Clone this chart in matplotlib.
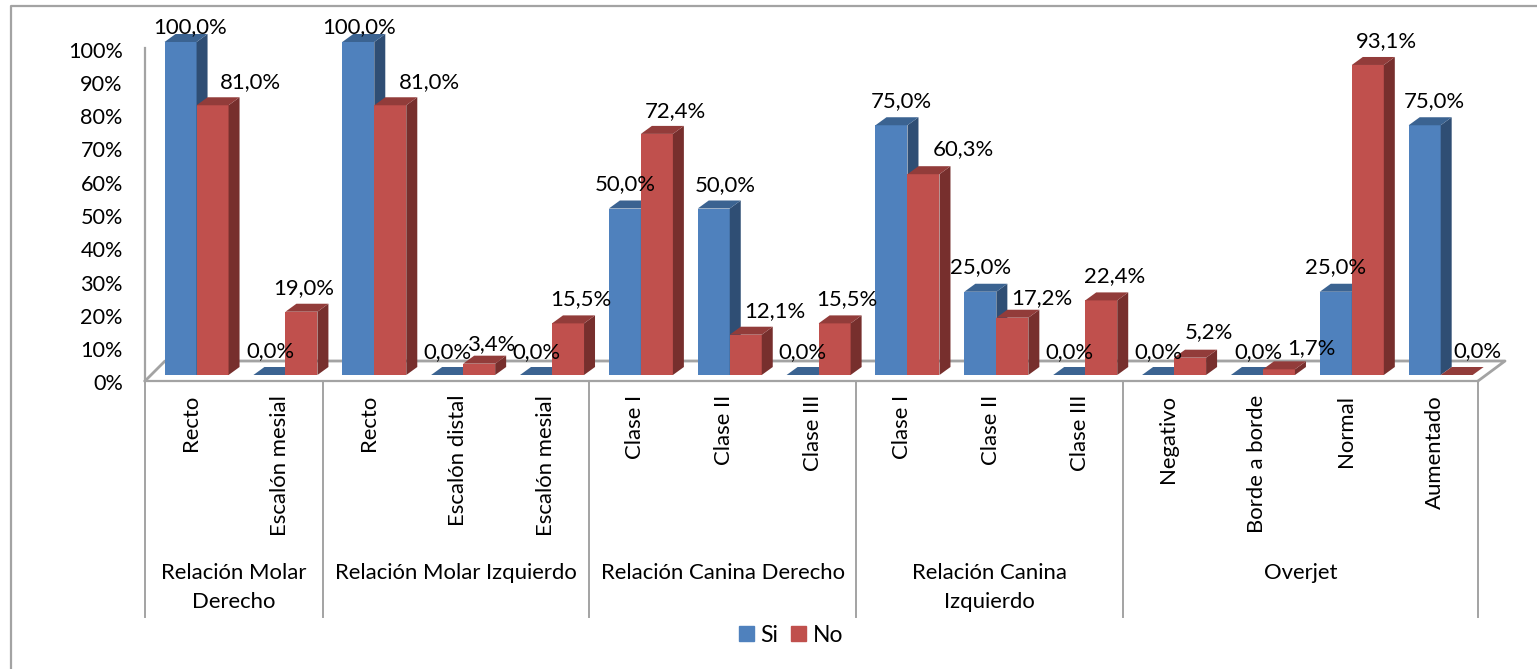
import matplotlib
matplotlib.use("Agg")
import matplotlib.pyplot as plt
from matplotlib.lines import Line2D
from matplotlib.patches import Patch, Polygon
from matplotlib.transforms import ScaledTranslation

# -----------------------------
# DATA
# -----------------------------
categories = ["Recto", "Escalón mesial",
              "Recto", "Escalón distal", "Escalón mesial",
              "Clase I", "Clase II", "Clase III",
              "Clase I", "Clase II", "Clase III",
              "Negativo", "Borde a borde", "Normal", "Aumentado"]
groups = ["Relación Molar\nDerecho", "Relación Molar Izquierdo", "Relación Canina Derecho",
          "Relación Canina\nIzquierdo", "Overjet"]
group_sizes = [2, 3, 3, 3, 4]
si = [100.0, 0.0, 100.0, 0.0, 0.0, 50.0, 50.0, 0.0, 75.0, 25.0, 0.0, 0.0, 0.0, 25.0, 75.0]
no = [81.0, 19.0, 81.0, 3.4, 15.5, 72.4, 12.1, 15.5, 60.3, 17.2, 22.4, 5.2, 1.7, 93.1, 0.0]

# label offsets from the bar top, in pixels
si_dx = [10, 1, 1, 0, 0, 0, 11, 0, 10, 0, 0, 0, 11, 0, 10]
si_dy = [15, 24, 15, 23, 23, 24, 23, 23, 24, 25, 23, 23, 23, 25, 24]
no_dx = [38, 2, 39, 13, 13, 18, 29, 12, 40, 29, 13, 19, 32, 19, 21]
no_dy = [23, 24, 23, 20, 24, 23, 24, 24, 25, 20, 24, 26, 21, 24, 24]

# -----------------------------
# STYLE / GEOMETRY
# -----------------------------
W, H = 1537, 669
GRAY = "#a3a3a3"
TEXT_SIZE = 15.9
plt.rcParams["font.family"] = "Lato"

ax_left, ax_right, ax_top, ax_bottom = 145, 1478, 48, 381
px_x = (ax_right - ax_left) / len(categories)
px_y = (ax_bottom - ax_top) / 100

bar_w = 32 / px_x
depth_x = 11 / px_x
depth_y = 8 / px_y
base = 6 / px_y        # bars stand a little behind the front edge of the floor
si_start = 0.22

def draw_bar(ax, x, val, front, side, top):
    ax.bar(x, val, bar_w, bottom=base, align="edge", color=front, lw=0, zorder=3, clip_on=False)
    y0, y1 = base, base + val
    ax.add_patch(Polygon([(x + bar_w, y0), (x + bar_w + depth_x, y0 + depth_y),
                          (x + bar_w + depth_x, y1 + depth_y), (x + bar_w, y1)],
                         fc=side, lw=0, zorder=3, clip_on=False))
    ax.add_patch(Polygon([(x, y1), (x + depth_x, y1 + depth_y),
                          (x + bar_w + depth_x, y1 + depth_y), (x + bar_w, y1)],
                         fc=top, lw=0, zorder=3, clip_on=False))

def draw_label(ax, x, val, dx, dy):
    ax.annotate(f"{val:.1f}%".replace(".", ","), (x + bar_w / 2, base + val),
                xytext=(dx, dy), textcoords="offset pixels", ha="center", va="center",
                fontsize=TEXT_SIZE, color="black", zorder=6, annotation_clip=False)

# -----------------------------
# PLOT
# -----------------------------
fig = plt.figure(figsize=(W / 100, H / 100), dpi=100, facecolor="white")
ax = fig.add_axes([ax_left / W, 1 - ax_bottom / H, (ax_right - ax_left) / W, (ax_bottom - ax_top) / H])
ax.set_xlim(0, len(categories))
ax.set_ylim(0, 100)
ax.patch.set_alpha(0)

# chart frame: only top and left are inside the picture
fig.add_artist(Line2D([11 / W, 11 / W, 1], [0, 1 - 6 / H, 1 - 6 / H], transform=fig.transFigure,
                      color=GRAY, lw=1.6))

# floor
floor_left = 20 / px_x
floor_right = 27 / px_x
floor_y = 20 / px_y
n = len(categories)
ax.plot([0, floor_left, n + floor_right, n], [0, floor_y, floor_y, 0],
        color=GRAY, lw=2, clip_on=False, zorder=1)

for i in range(n):
    x = i + si_start
    draw_bar(ax, x, si[i], "#4f81bd", "#2f4e74", "#3b6391")
    draw_bar(ax, x + bar_w, no[i], "#c0504d", "#772f2d", "#923c3a")
    draw_label(ax, x, si[i], si_dx[i], si_dy[i])
    draw_label(ax, x + bar_w, no[i], no_dx[i], no_dy[i])

# axes
for name in ["top", "right"]:
    ax.spines[name].set_visible(False)
for name in ["left", "bottom"]:
    ax.spines[name].set_color(GRAY)
    ax.spines[name].set_linewidth(1.6)
ax.set_yticks(range(0, 101, 10))
ax.set_yticklabels([f"{v}%" for v in range(0, 101, 10)], fontsize=15.6)
ax.tick_params(axis="y", length=0, pad=16)
nudge = ScaledTranslation(0, -1.5 / 100, fig.dpi_scale_trans)
for lbl in ax.get_yticklabels():
    lbl.set_transform(lbl.get_transform() + nudge)
ax.set_xticks([i + 0.5 for i in range(n)])
ax.set_xticklabels(categories, rotation=90, fontsize=TEXT_SIZE)
ax.tick_params(axis="x", length=0, pad=10)
nudge_x = ScaledTranslation(1.5 / 100, 0, fig.dpi_scale_trans)
for lbl in ax.get_xticklabels():
    lbl.set_transform(lbl.get_transform() + nudge_x)

# group separators and names
trans = ax.get_xaxis_transform()
sep_y = -(617 - ax_bottom) / (ax_bottom - ax_top)
pos = 0
ax.plot([0, 0], [0, sep_y], color=GRAY, lw=1.4, transform=trans, clip_on=False)
for name, size in zip(groups, group_sizes):
    ax.plot([pos + size] * 2, [0, sep_y], color=GRAY, lw=1.4, transform=trans, clip_on=False)
    ax.text(pos + size / 2, -(563 - ax_bottom) / (ax_bottom - ax_top), name, transform=trans,
            ha="center", va="top", fontsize=TEXT_SIZE, linespacing=1.55)
    pos += size

fig.legend(handles=[Patch(color="#4f81bd", label="Si"), Patch(color="#c0504d", label="No")],
           loc="center", bbox_to_anchor=(791 / W, 1 - 635 / H), ncol=2, frameon=False,
           fontsize=16.5, handlelength=0.65, handleheight=0.65, handletextpad=0.3, columnspacing=0.55)

fig.savefig("out.png", dpi=100)
plt.close(fig)
